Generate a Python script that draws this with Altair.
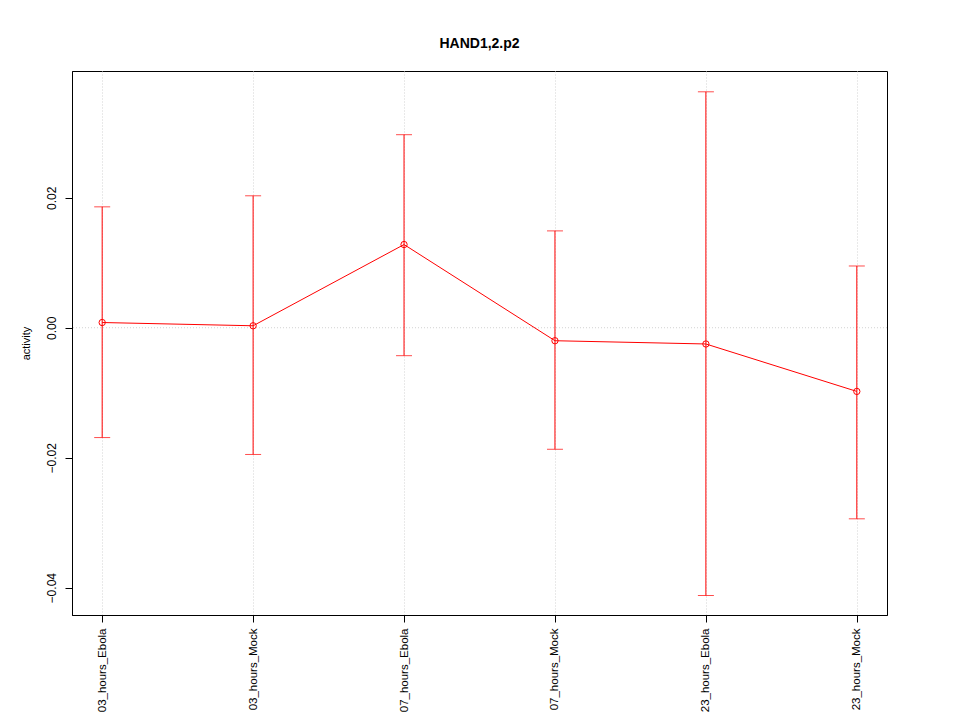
import altair as alt
import pandas as pd

categories = ["03_hours_Ebola", "03_hours_Mock", "07_hours_Ebola", "07_hours_Mock", "23_hours_Ebola", "23_hours_Mock"]
means = [0.0008, 0.0003, 0.0128, -0.0020, -0.0025, -0.0098]
upper = [0.0186, 0.0203, 0.0297, 0.0149, 0.0363, 0.0095]
lower = [-0.0169, -0.0195, -0.0043, -0.0187, -0.0412, -0.0294]

df = pd.DataFrame({"cat": categories, "mean": means, "upper": upper, "lower": lower})

FONT = "Liberation Sans"
RED = "#FF0000"

x_scale = alt.Scale(type="point", domain=categories, padding=0.2)
y_scale = alt.Scale(domain=[-0.0442, 0.0395], nice=False, zero=False)

x_enc = alt.X("cat:N", scale=x_scale, sort=categories,
              axis=alt.Axis(title=None, labelAngle=-90, labelAlign="right", labelBaseline="middle",
                            labelFont=FONT, labelFontSize=11.5, labelColor="black", labelPadding=6,
                            tickColor="black", tickSize=7, domainColor="black",
                            grid=True, gridColor="#d3d3d3", gridDash=[1, 2]))
y_axis = alt.Axis(title="activity", titleFont=FONT, titleFontSize=11, titleFontWeight="normal",
                  titleColor="black", titlePadding=14,
                  values=[-0.04, -0.02, 0.0, 0.02], format=".2f", labelAngle=-90,
                  labelAlign="center", labelBaseline="bottom", labelFont=FONT, labelFontSize=12,
                  labelColor="black", labelPadding=7, tickColor="black", tickSize=7,
                  domainColor="black", grid=False)

base = alt.Chart(df)

zero_rule = alt.Chart(pd.DataFrame({"z": [0.0]})).mark_rule(
    color="#d3d3d3", strokeDash=[1, 2], strokeWidth=1
).encode(y=alt.Y("z:Q", scale=y_scale, axis=y_axis))

bars = base.mark_rule(color=RED, strokeWidth=1).encode(
    x=x_enc,
    y=alt.Y("lower:Q", scale=y_scale, axis=y_axis),
    y2="upper:Q",
)
cap_hi = base.mark_tick(color=RED, thickness=1, size=16, orient="horizontal").encode(
    x=x_enc, y=alt.Y("upper:Q", scale=y_scale))
cap_lo = base.mark_tick(color=RED, thickness=1, size=16, orient="horizontal").encode(
    x=x_enc, y=alt.Y("lower:Q", scale=y_scale))
line = base.mark_line(color=RED, strokeWidth=1).encode(
    x=x_enc, y=alt.Y("mean:Q", scale=y_scale))
pts = base.mark_point(shape="circle", filled=False, color=RED, size=40, strokeWidth=1, opacity=1).encode(
    x=x_enc, y=alt.Y("mean:Q", scale=y_scale))

chart = alt.layer(zero_rule, bars, cap_hi, cap_lo, line, pts).properties(
    width=815, height=544,
    title=alt.Title("HAND1,2.p2", font=FONT, fontSize=14, fontWeight="bold", color="black",
                    anchor="middle", offset=20),
    autosize=alt.AutoSizeParams(type="none"),
    padding={"left": 64, "top": 63, "right": 65, "bottom": 104},
).configure(background="white", view=alt.ViewConfig(stroke="black", strokeWidth=1))

chart.save("out.html", embed_options={"renderer": "svg", "actions": False})
